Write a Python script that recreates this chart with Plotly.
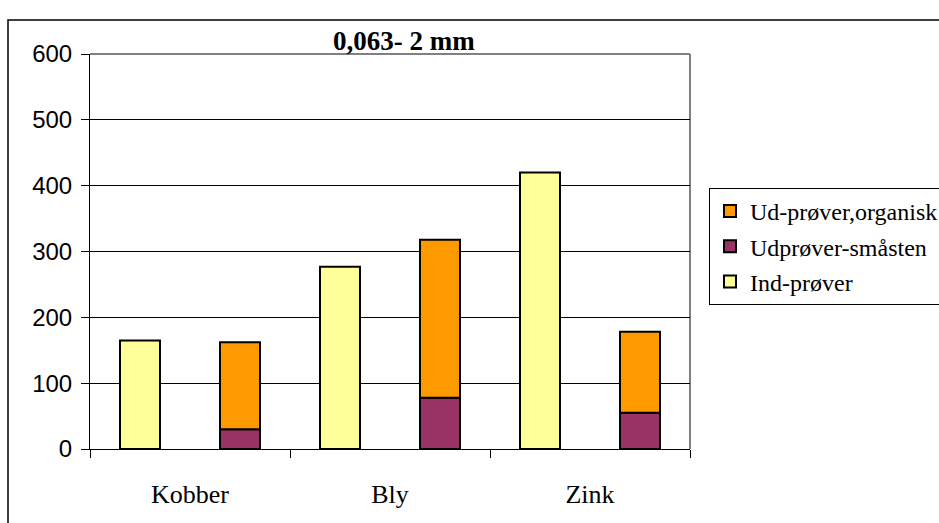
import plotly.graph_objects as go

# Metals and concentrations per sample type
metals = ["Kobber", "Bly", "Zink"]
ind_proever = [165, 277, 420]          # Ind-prøver
ud_smaasten = [30, 78, 55]             # Udprøver-småsten
ud_organisk = [132, 240, 123]          # Ud-prøver,organisk (stacked on småsten)

series_names = ["Ind-prøver", "Udprøver-småsten", "Ud-prøver,organisk"]
colors = ["#FFFF99", "#993366", "#FF9900"]

y_ticks = [0, 100, 200, 300, 400, 500, 600]

SERIF = "Times New Roman, Liberation Serif, serif"
SANS = "Arial, Liberation Sans, sans-serif"

fig = go.Figure()
line = dict(color="black", width=2)

fig.add_trace(go.Bar(
    x=metals, y=ind_proever, name=series_names[0], offsetgroup="ind",
    legendgroup="a", legendrank=3, marker=dict(color=colors[0], line=line)))
fig.add_trace(go.Bar(
    x=metals, y=ud_smaasten, name=series_names[1], offsetgroup="ud",
    legendgroup="b", legendrank=2, marker=dict(color=colors[1], line=line)))
fig.add_trace(go.Bar(
    x=metals, y=ud_organisk, base=ud_smaasten, name=series_names[2],
    offsetgroup="ud", legendgroup="c", legendrank=1,
    marker=dict(color=colors[2], line=line)))

# plot area: x 90..690, y 54..449 in a 939x523 page
L, R, T, B = 90, 249, 54, 74
W, H = 939, 523
pw, ph = W - L - R, H - T - B

def px_x(x):
    return (x - L) / pw

def px_y(y):
    return (H - B - y) / ph

fig.update_layout(
    width=W, height=H,
    margin=dict(l=L, r=R, t=T, b=B, autoexpand=False),
    paper_bgcolor="white", plot_bgcolor="white",
    barmode="group", bargap=0.0, bargroupgap=0.6,
    showlegend=True,
    legend=dict(
        x=px_x(709), y=px_y(188), xanchor="left", yanchor="top",
        xref="paper", yref="paper",
        bordercolor="black", borderwidth=1, bgcolor="white",
        font=dict(family=SERIF, size=24, color="black"),
        traceorder="grouped", tracegroupgap=1,
        itemwidth=30,
    ),
    xaxis=dict(
        type="category", showgrid=False, showline=True, linecolor="black",
        linewidth=1, ticks="outside", tickson="boundaries", ticklen=8,
        tickcolor="black", ticklabelstandoff=22,
        tickfont=dict(family=SERIF, size=26, color="black"),
    ),
    yaxis=dict(
        range=[0, 600], tickvals=y_ticks, showgrid=True, gridcolor="black",
        gridwidth=1, showline=True, linecolor="black", linewidth=1,
        ticks="outside", ticklen=8, tickcolor="black", zeroline=False,
        ticklabelstandoff=4,
        tickfont=dict(family=SANS, size=24, color="black"),
    ),
    annotations=[dict(
        text="<b>0,063- 2 mm</b>", xref="paper", yref="paper",
        x=px_x(404), y=px_y(41), xanchor="center", yanchor="middle",
        showarrow=False,
        font=dict(family=SERIF, size=27, color="black"),
    )],
    shapes=[
        # plot-area frame (top and right edges in grey)
        dict(type="line", xref="paper", yref="paper", x0=0, x1=1, y0=1, y1=1,
             line=dict(color="#808080", width=2), layer="below"),
        dict(type="line", xref="paper", yref="paper", x0=1, x1=1, y0=0, y1=1,
             line=dict(color="#808080", width=2), layer="below"),
        # outer chart border
        dict(type="rect", xref="paper", yref="paper",
             x0=px_x(8), x1=px_x(1200), y0=px_y(20), y1=px_y(700),
             line=dict(color="black", width=1.5)),
    ],
)

fig.write_html("out.html")
